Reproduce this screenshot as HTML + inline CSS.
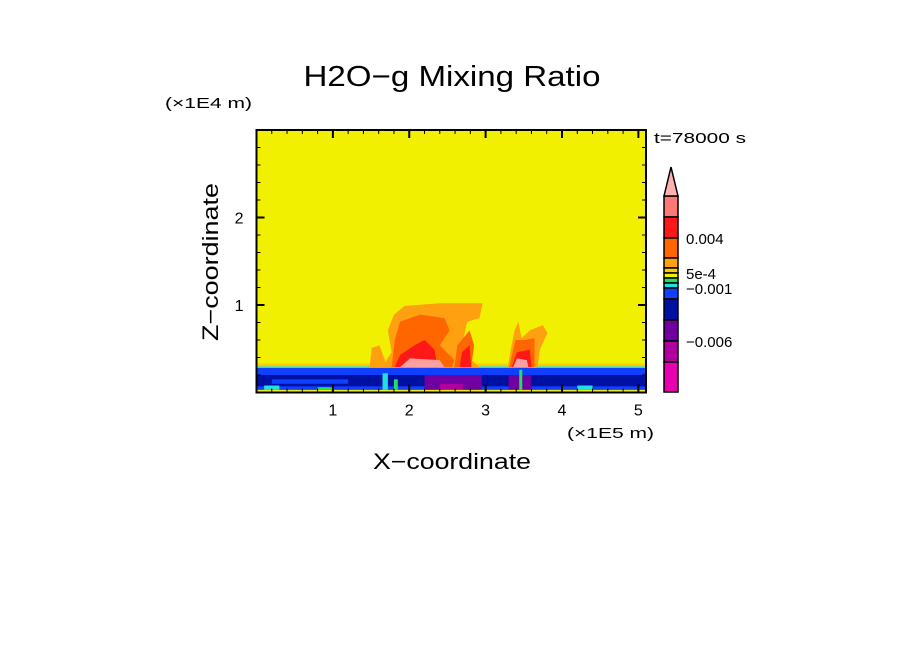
<!DOCTYPE html>
<html><head><meta charset="utf-8"><style>
html,body{margin:0;padding:0;background:#fff}
svg{display:block;font-family:"Liberation Sans",sans-serif}
</style></head><body>
<svg id="c" width="904" height="654" viewBox="0 0 904 654">
<text x="452" y="86" font-size="29" text-anchor="middle" textLength="297" lengthAdjust="spacingAndGlyphs">H2O−g Mixing Ratio</text>
<text x="165" y="108" font-size="15" textLength="87" lengthAdjust="spacingAndGlyphs">(×1E4 m)</text>
<text x="567" y="438" font-size="15" textLength="87" lengthAdjust="spacingAndGlyphs">(×1E5 m)</text>
<text x="452" y="469" font-size="22" text-anchor="middle" textLength="158" lengthAdjust="spacingAndGlyphs">X−coordinate</text>
<text transform="translate(218,262) rotate(-90)" font-size="22" text-anchor="middle" textLength="158" lengthAdjust="spacingAndGlyphs">Z−coordinate</text>
<text x="654" y="143" font-size="15" textLength="92" lengthAdjust="spacingAndGlyphs">t=78000 s</text>
<g id="plot"></g>
<g id="cbar"></g>
</svg>
<script>
const xTicks=[1,2,3,4,5];
const zTicks=[1,2];
const xRange=[0,5.1];
const zRange=[0,3];
const plumeOuter=[[1.48,0.29],[1.51,0.51],[1.61,0.54],[1.69,0.35],[1.77,0.46],[1.72,0.71],[1.80,0.89],[1.94,0.99],[2.40,1.02],[2.96,1.02],[2.92,0.85],[2.76,0.81],[2.69,0.54],[2.79,0.39],[2.92,0.29]];
const plumeMid=[[1.77,0.29],[1.81,0.60],[1.88,0.81],[2.14,0.89],[2.46,0.85],[2.53,0.71],[2.40,0.54],[2.59,0.37],[2.56,0.29]];
const plumeMid2=[[2.59,0.29],[2.63,0.54],[2.79,0.71],[2.85,0.54],[2.81,0.29]];
const plumeRed=[[1.81,0.29],[1.88,0.43],[2.07,0.54],[2.20,0.60],[2.33,0.49],[2.37,0.29]];
const plumeRed2=[[2.66,0.29],[2.69,0.46],[2.79,0.54],[2.81,0.29]];
const plumeCore=[[1.88,0.29],[2.01,0.39],[2.40,0.37],[2.46,0.29]];
const plumeBOuter=[[3.29,0.29],[3.34,0.54],[3.38,0.71],[3.43,0.81],[3.47,0.62],[3.58,0.71],[3.75,0.77],[3.81,0.68],[3.71,0.49],[3.68,0.29]];
const plumeBMid=[[3.31,0.29],[3.39,0.60],[3.51,0.60],[3.64,0.62],[3.64,0.29]];
const plumeBRed=[[3.34,0.29],[3.41,0.46],[3.58,0.49],[3.60,0.29]];
const plumeBCore=[[3.36,0.29],[3.41,0.39],[3.54,0.37],[3.56,0.29]];
// surface layer patches: [x0,x1,z0,z1,colorIndex]
const surfacePatches=[[0,5.1,0,0.29,8],[0,5.1,0.07,0.2,9],[0.2,1.2,0.1,0.15,8],[2.2,2.95,0,0.2,10],[2.4,2.7,0,0.1,11],[3.3,3.6,0.03,0.2,10],[0,5.1,0,0.03,5],[0.1,0.3,0.03,0.08,7],[1.65,1.72,0.03,0.22,7],[1.8,1.85,0.03,0.15,6],[3.44,3.48,0.03,0.26,6],[4.2,4.4,0.03,0.08,7],[0.8,1.0,0.03,0.06,6],[0,5.1,0.28,0.3,7],[0,5.1,0.3,0.33,4]];
const cbColors=['#ff7878','#ff1818','#ff6600','#ffa010','#ffcc00','#f0f000','#20e060','#20e0e0','#1040ff','#0010a0','#7000a0','#b000a0','#e800b0'];
const cbBounds=[196,217,238,258,268,273,278,283,288,299,320,341,362,392];
const cbLabels=['0.004','5e-4','−0.001','−0.006'];
const cbLabelIdx=[2,5,8,11];

const L=256.5,R=646,T=130,B=392.5;
const sx=v=>L+(v-xRange[0])/(xRange[1]-xRange[0])*(R-L);
const sz=v=>B-(v-zRange[0])/(zRange[1]-zRange[0])*(B-T);
const NS='http://www.w3.org/2000/svg';
function mk(tag,attrs,parent){const e=document.createElementNS(NS,tag);for(const k in attrs)e.setAttribute(k,attrs[k]);parent.appendChild(e);return e;}
const plot=document.getElementById('plot');
let e=mk('rect',{x:L,y:T,width:R-L,height:B-T,fill:'#f0f000'},plot);


surfacePatches.forEach(p=>{
 const r=mk('rect',{x:sx(p[0]),y:sz(p[3]),width:sx(p[1])-sx(p[0]),height:sz(p[2])-sz(p[3]),fill:cbColors[p[4]]},plot);
 
 
});
const polys=[[plumeOuter,'#ffa010'],[plumeMid,'#ff6600'],[plumeMid2,'#ff6600'],[plumeRed,'#ff1818'],[plumeRed2,'#ff1818'],[plumeCore,'#ffa0a0'],[plumeBOuter,'#ffa010'],[plumeBMid,'#ff6600'],[plumeBRed,'#ff1818'],[plumeBCore,'#ffa0a0']];
polys.forEach(([pts,c])=>{
 const p=mk('polygon',{points:pts.map(q=>sx(q[0])+','+sz(q[1])).join(' '),fill:c},plot);
 
 
});
e=mk('rect',{x:L,y:T,width:R-L,height:B-T,fill:'none',stroke:'#000','stroke-width':2},plot);


for(let v=0.2;v<5.1;v+=0.2){
 const major=Math.abs(v-Math.round(v))<0.01;const len=major?8:4;
 mk('line',{x1:sx(v),x2:sx(v),y1:B,y2:B-len,stroke:'#000','stroke-width':major?2:1},plot);
 mk('line',{x1:sx(v),x2:sx(v),y1:T,y2:T+len,stroke:'#000','stroke-width':major?2:1},plot);
}
for(let v=0.2;v<3;v+=0.2){
 const major=Math.abs(v-Math.round(v))<0.01;const len=major?8:4;
 mk('line',{x1:L,x2:L+len,y1:sz(v),y2:sz(v),stroke:'#000','stroke-width':major?2:1},plot);
 mk('line',{x1:R,x2:R-len,y1:sz(v),y2:sz(v),stroke:'#000','stroke-width':major?2:1},plot);
}
xTicks.forEach(v=>{const t=mk('text',{x:sx(v),y:B+23,'font-size':16,'text-anchor':'middle'},plot);t.textContent=v;
 
 });
zTicks.forEach(v=>{const t=mk('text',{x:L-13,y:sz(v)+6,'font-size':16,'text-anchor':'end'},plot);t.textContent=v;
 
 });
const cb=document.getElementById('cbar');
cbColors.forEach((c,i)=>{const r=mk('rect',{x:664,y:cbBounds[i],width:14,height:cbBounds[i+1]-cbBounds[i],fill:c,stroke:'#000','stroke-width':1.5},cb);
 
 });
e=mk('polygon',{points:'664,196 671,167 678,196',fill:'#ffb0b0',stroke:'#000','stroke-width':1.5},cb);


cbLabels.forEach((s,i)=>{const t=mk('text',{x:686,y:cbBounds[cbLabelIdx[i]]+6,'font-size':15},cb);t.textContent=s;
 
 });
</script>
</body></html>
